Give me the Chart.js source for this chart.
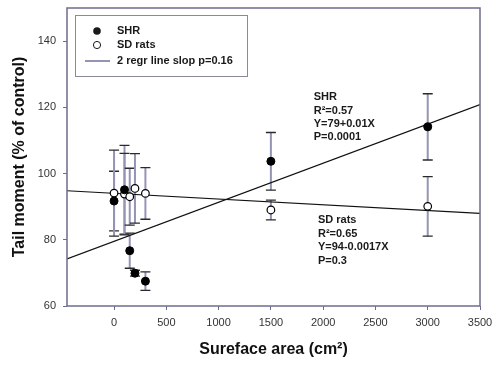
<!DOCTYPE html>
<html>
<head>
<meta charset="utf-8">
<script src="https://cdn.jsdelivr.net/npm/chart.js@4/dist/chart.umd.min.js"></script>
<style>
  html, body { margin: 0; padding: 0; background: #fff; }
  canvas { display: block; }
</style>
</head>
<body>
<canvas id="chart" width="493" height="367"></canvas>
<script>
// surface area (cm2) for each group
const shrX = [0, 100, 150, 200, 300, 1500, 3000];
const shrY = [91.7, 95.1, 76.7, 69.9, 67.5, 103.7, 114.1];
const shrErr = [9.0, 13.4, 5.3, 0.9, 2.8, 8.7, 10.0];

const sdX = [0, 100, 150, 200, 300, 1500, 3000];
const sdY = [94.1, 93.8, 93.0, 95.5, 94.0, 89.0, 90.1];
const sdErr = [13.0, 12.3, 8.6, 10.5, 7.8, 3.0, 9.0];

// regression lines, evaluated at the axis ends
const fitX = [-450, 3500];
const shrFit = [74.2, 120.8];
const sdFit = [94.8, 88.0];

const xTicks = [0, 500, 1000, 1500, 2000, 2500, 3000, 3500];
const yTicks = [60, 80, 100, 120, 140];

const shrNote = ["SHR", "R\u00b2=0.57", "Y=79+0.01X", "P=0.0001"];
const sdNote = ["SD rats", "R\u00b2=0.65", "Y=94-0.0017X", "P=0.3"];
const legendLabels = ["SHR", "SD rats", "2 regr line slop p=0.16"];

const FONT = "'Liberation Sans', Arial, sans-serif";
const FRAME = "#6c6c8c";
const BAR = "#9494b4";

const pts = (xs, ys) => xs.map((x, i) => ({ x: x, y: ys[i] }));

const errorBars = {
  id: "errorBars",
  beforeDatasetsDraw(chart) {
    const ctx = chart.ctx;
    const xs = chart.scales.x, ys = chart.scales.y;
    const groups = [[shrX, shrY, shrErr], [sdX, sdY, sdErr]];
    ctx.save();
    groups.forEach(([gx, gy, ge]) => {
      gx.forEach((v, i) => {
        const px = xs.getPixelForValue(v);
        const top = ys.getPixelForValue(gy[i] + ge[i]);
        const bot = ys.getPixelForValue(gy[i] - ge[i]);
        ctx.strokeStyle = BAR;
        ctx.lineWidth = 2;
        ctx.beginPath();
        ctx.moveTo(px, top);
        ctx.lineTo(px, bot);
        ctx.stroke();
        ctx.strokeStyle = "#2a2a2a";
        ctx.lineWidth = 1.3;
        ctx.beginPath();
        ctx.moveTo(px - 5, top);
        ctx.lineTo(px + 5, top);
        ctx.moveTo(px - 5, bot);
        ctx.lineTo(px + 5, bot);
        ctx.stroke();
      });
    });
    ctx.restore();
  },
  afterDraw(chart) {
    const ctx = chart.ctx;
    const a = chart.chartArea;
    ctx.save();
    // plot frame
    ctx.strokeStyle = FRAME;
    ctx.lineWidth = 1.5;
    ctx.strokeRect(a.left, a.top, a.right - a.left, a.bottom - a.top);

    // legend box
    const lx = a.left + 8, ly = a.top + 7;
    ctx.strokeStyle = "#8a8a9a";
    ctx.lineWidth = 1;
    ctx.strokeRect(lx + 0.5, ly + 0.5, 172, 61);
    ctx.font = "bold 11px " + FONT;
    ctx.fillStyle = "#1a1a1a";
    ctx.textBaseline = "middle";
    const rows = [ly + 16, ly + 30, ly + 46];
    ctx.beginPath();
    ctx.arc(lx + 22, rows[0], 3.8, 0, Math.PI * 2);
    ctx.fill();
    ctx.beginPath();
    ctx.arc(lx + 22, rows[1], 3.6, 0, Math.PI * 2);
    ctx.fillStyle = "#fff";
    ctx.fill();
    ctx.strokeStyle = "#1a1a1a";
    ctx.stroke();
    ctx.strokeStyle = BAR;
    ctx.lineWidth = 2;
    ctx.beginPath();
    ctx.moveTo(lx + 10, rows[2]);
    ctx.lineTo(lx + 35, rows[2]);
    ctx.stroke();
    ctx.fillStyle = "#1a1a1a";
    legendLabels.forEach((t, i) => ctx.fillText(t, lx + 42, rows[i]));

    // regression notes
    const xs = chart.scales.x, ys = chart.scales.y;
    const notes = [[shrNote, 1910, 123, 13.3], [sdNote, 1950, 86, 13.6]];
    notes.forEach(([lines, nx, ny, step]) => {
      const px = xs.getPixelForValue(nx);
      const py = ys.getPixelForValue(ny);
      lines.forEach((t, i) => ctx.fillText(t, px, py + i * step));
    });
    ctx.restore();
  }
};

new Chart(document.getElementById("chart"), {
  type: "scatter",
  data: {
    datasets: [
      {
        label: legendLabels[0],
        data: pts(shrX, shrY),
        pointRadius: 4,
        pointBackgroundColor: "#000",
        pointBorderColor: "#000",
        pointBorderWidth: 1
      },
      {
        label: legendLabels[1],
        data: pts(sdX, sdY),
        pointRadius: 3.8,
        pointBackgroundColor: "#fff",
        pointBorderColor: "#000",
        pointBorderWidth: 1.2
      },
      {
        type: "line",
        data: pts(fitX, shrFit),
        borderColor: "#111",
        borderWidth: 1.2,
        pointRadius: 0
      },
      {
        type: "line",
        data: pts(fitX, sdFit),
        borderColor: "#111",
        borderWidth: 1.2,
        pointRadius: 0
      }
    ]
  },
  options: {
    responsive: false,
    animation: false,
    devicePixelRatio: 1,
    layout: { padding: { left: 0, right: 13, top: 8, bottom: 0 } },
    plugins: {
      legend: { display: false },
      tooltip: { enabled: false }
    },
    scales: {
      x: {
        type: "linear",
        min: -450,
        max: 3500,
        afterBuildTicks: (s) => { s.ticks = xTicks.map(v => ({ value: v })); },
        afterFit: (s) => { s.height = 61; s.paddingLeft = 0; s.paddingRight = 0; },
        border: { display: false },
        grid: { drawOnChartArea: false, drawTicks: true, tickLength: 4, color: FRAME, lineWidth: 1 },
        ticks: {
          font: { family: FONT, size: 11 }, color: "#333", padding: 6, maxRotation: 0,
          callback: (v) => String(v)
        },
        title: {
          display: true,
          text: "Sureface area (cm\u00b2)",
          font: { family: FONT, size: 16, weight: "bold" },
          color: "#111",
          padding: { top: 0, bottom: 8 }
        }
      },
      y: {
        type: "linear",
        min: 60,
        max: 150,
        afterBuildTicks: (s) => { s.ticks = yTicks.map(v => ({ value: v })); },
        afterFit: (s) => { s.width = 67; s.paddingTop = 0; s.paddingBottom = 0; },
        border: { display: false },
        grid: { drawOnChartArea: false, drawTicks: true, tickLength: 4, color: FRAME, lineWidth: 1 },
        ticks: {
          font: { family: FONT, size: 11 }, color: "#333", padding: 7,
          callback: (v) => String(v)
        },
        title: {
          display: true,
          text: "Tail moment (% of control)",
          font: { family: FONT, size: 16, weight: "bold" },
          color: "#111",
          padding: { top: 10, bottom: 0 }
        }
      }
    }
  },
  plugins: [errorBars]
});
</script>
</body>
</html>
